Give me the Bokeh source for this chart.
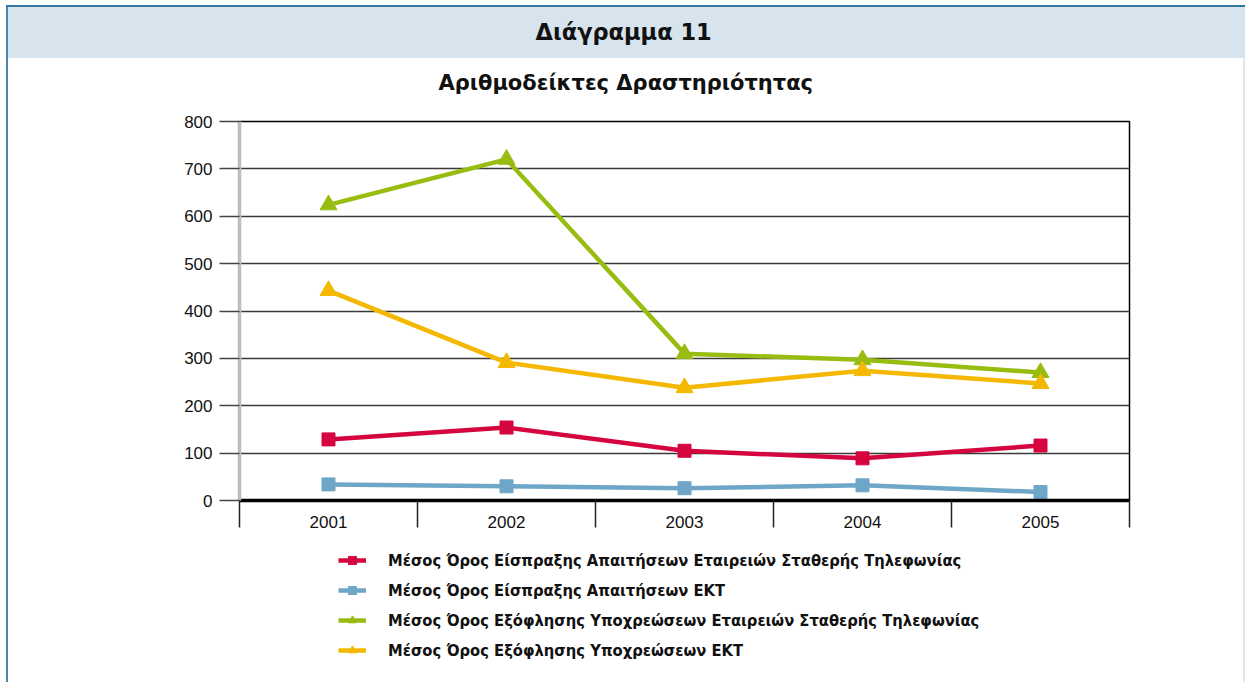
from bokeh.plotting import figure
from bokeh.layouts import column
from bokeh.models import Range1d, FixedTicker, Legend, LegendItem, Title
from bokeh.embed import file_html
from bokeh.resources import INLINE

# ---------------- data ----------------
years = ["2001", "2002", "2003", "2004", "2005"]
collection_telcos = [129, 154, 105, 89, 116]
collection_ekt = [34, 30, 26, 32, 18]
payment_telcos = [624, 720, 310, 297, 270]
payment_ekt = [443, 291, 238, 274, 247]
series_names = [
    "Μέσος Όρος Είσπραξης Απαιτήσεων Εταιρειών Σταθερής Τηλεφωνίας",
    "Μέσος Όρος Είσπραξης Απαιτήσεων ΕΚΤ",
    "Μέσος Όρος Εξόφλησης Υποχρεώσεων Εταιρειών Σταθερής Τηλεφωνίας",
    "Μέσος Όρος Εξόφλησης Υποχρεώσεων ΕΚΤ",
]
y_ticks = [0, 100, 200, 300, 400, 500, 600, 700, 800]
header_text = "Διάγραμμα 11"
title_text = "Αριθμοδείκτες Δραστηριότητας"

# ---------------- layout ----------------
W = 1245
H_MAIN, H_LEG = 545, 137
FL, FR, FT, FB = 239, 1129, 121, 500
YMAX = 800
NX = len(years)

p = figure(width=W, height=H_MAIN, x_range=Range1d(0, NX), y_range=Range1d(0, YMAX),
           output_backend="svg", toolbar_location=None,
           min_border_left=FL, min_border_right=W - FR,
           min_border_top=FT, min_border_bottom=H_MAIN - FB)
p.background_fill_color = "white"
p.border_fill_alpha = 0
p.outline_line_color = "black"
p.outline_line_width = 1.5

xs = [i + 0.5 for i in range(NX)]

# x axis: labels at category centres, separators as minor ticks at boundaries
xa = p.xaxis[0]
xa.ticker = FixedTicker(ticks=xs, minor_ticks=list(range(NX + 1)))
xa.major_label_overrides = {x: y for x, y in zip(xs, years)}
xa.major_tick_out = 0
xa.major_tick_in = 0
xa.minor_tick_out = 27
xa.minor_tick_in = 0
xa.minor_tick_line_color = "#222222"
xa.minor_tick_line_width = 1.5
xa.axis_line_color = "black"
xa.axis_line_width = 3.5
xa.major_label_standoff = -12
xa.major_label_text_font = "Liberation Sans"
xa.major_label_text_font_size = "17px"
xa.major_label_text_color = "#111111"

# y axis
ya = p.yaxis[0]
ya.ticker = FixedTicker(ticks=y_ticks)
ya.axis_line_color = "#bdbdbd"
ya.axis_line_width = 3.5
ya.major_tick_out = 20
ya.major_tick_in = 0
ya.major_tick_line_color = "#444444"
ya.major_tick_line_width = 1.5
ya.minor_tick_out = 0
ya.minor_tick_in = 0
ya.major_label_standoff = 7
ya.major_label_text_font = "Liberation Sans"
ya.major_label_text_font_size = "17px"
ya.major_label_text_color = "#111111"

p.xgrid.visible = False
p.ygrid.grid_line_color = "#3a3a3a"
p.ygrid.grid_line_width = 1.4

# titles (first added is nearest the frame); offsets measured from frame left
p.add_layout(Title(text=title_text, align="left", offset=199, vertical_align="top",
                   text_font="DejaVu Sans", text_font_style="bold",
                   text_font_size="21px", text_color="#111111", standoff=50), "above")
p.add_layout(Title(text=header_text, align="left", offset=296, vertical_align="bottom",
                   text_font="DejaVu Sans", text_font_style="bold",
                   text_font_size="22.5px", text_color="#111111", standoff=2), "above")

# ---------------- series ----------------
colors = ["#d5053f", "#6ea6c8", "#98bd10", "#f4b800"]
markers = ["square", "square", "triangle", "triangle"]
sizes = [13, 13, 17, 17]
data = [collection_telcos, collection_ekt, payment_telcos, payment_ekt]

for vals, c, m, s in zip(data, colors, markers, sizes):
    p.line(xs, vals, line_color=c, line_width=4.5)
    p.scatter(xs, vals, marker=m, size=s, fill_color=c, line_color=c)

# ---------------- legend panel ----------------
lf = figure(width=W, height=H_LEG, x_range=Range1d(0, 1), y_range=Range1d(0, 1),
            output_backend="svg", toolbar_location=None,
            min_border=0, min_border_left=0, min_border_right=0,
            min_border_top=0, min_border_bottom=0)
lf.axis.visible = False
lf.grid.visible = False
lf.outline_line_color = None
lf.background_fill_alpha = 0
lf.border_fill_alpha = 0

nan = float("nan")
items = []
for name, c, m, s in zip(series_names, colors, markers, sizes):
    lr = lf.line([nan], [nan], line_color=c, line_width=4.5)
    sr = lf.scatter([nan], [nan], marker=m, size=s - 2, fill_color=c, line_color=c)
    items.append(LegendItem(label=name, renderers=[lr, sr]))

legend = Legend(items=items, location=(99, 22), padding=0, margin=0, spacing=10,
                label_height=20, glyph_height=20, glyph_width=28, label_standoff=22,
                label_text_font="DejaVu Sans Condensed", label_text_font_style="bold",
                label_text_font_size="16.4px", label_text_color="#111111",
                border_line_color=None, background_fill_alpha=0)
lf.add_layout(legend, "center")

layout = column(p, lf, spacing=0, styles={
    "background": (
        "linear-gradient(#3575a0,#3575a0) 6px 5px / 1239px 2px no-repeat, "
        "linear-gradient(#4b86ad,#4b86ad) 6px 5px / 2px 677px no-repeat, "
        "linear-gradient(#dfe8ef,#dfe8ef) 1243px 58px / 2px 624px no-repeat, "
        "linear-gradient(#d7e3ed,#d7e3ed) 6px 5px / 1239px 53px no-repeat, "
        "#ffffff"
    )
})

open("out.html", "w").write(file_html(layout, INLINE))
